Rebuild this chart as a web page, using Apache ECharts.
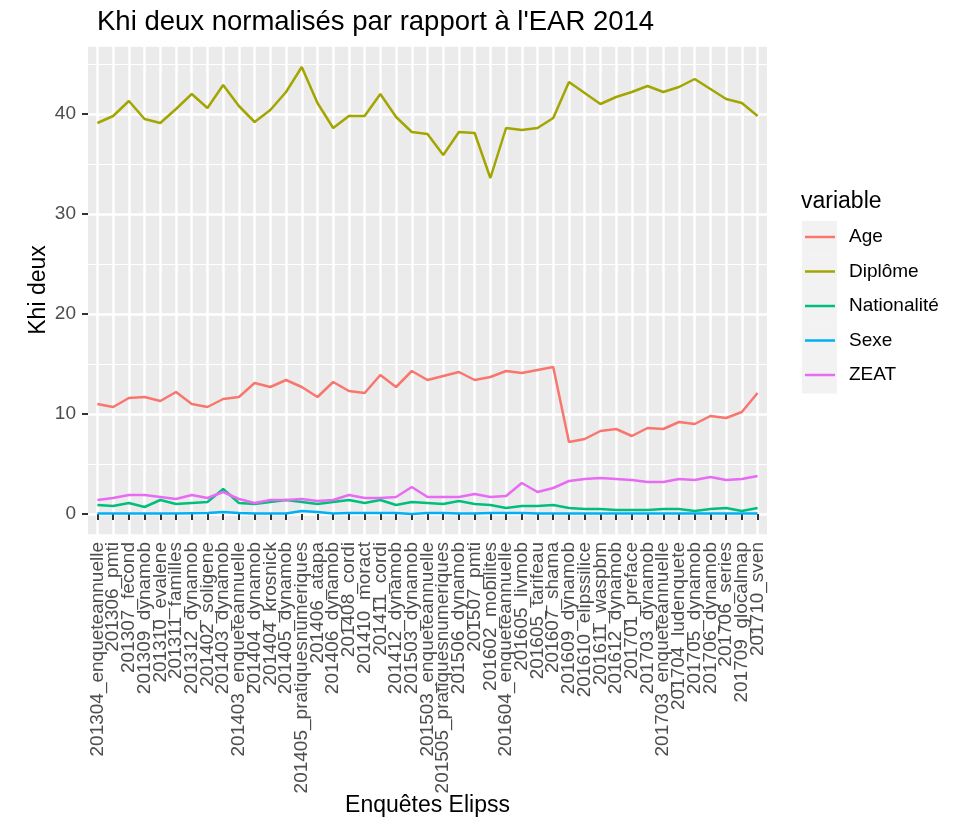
<!DOCTYPE html>
<html>
<head>
<meta charset="utf-8">
<script src="https://cdn.jsdelivr.net/npm/echarts@6/dist/echarts.min.js"></script>
<style>
  html, body { margin: 0; padding: 0; background: #fff; }
  #main { width: 957px; height: 818px; }
</style>
</head>
<body>
<div id="main"></div>
<script>
// enquetes (axe x)
var enquetes = [
    '201304_enqueteannuelle', '201306_pmti', '201307_fecond', '201309_dynamob',
    '201310_evalene', '201311_familles', '201312_dynamob', '201402_soligene',
    '201403_dynamob', '201403_enqueteannuelle', '201404_dynamob', '201404_krosnick',
    '201405_dynamob', '201405_pratiquesnumeriques', '201406_atapa', '201406_dynamob',
    '201408_cordi', '201410_moract', '201411_cordi', '201412_dynamob',
    '201503_dynamob', '201503_enqueteannuelle', '201505_pratiquesnumeriques', '201506_dynamob',
    '201507_pmti', '201602_mobilites', '201604_enqueteannuelle', '201605_livmob',
    '201605_tarifeau', '201607_shama', '201609_dynamob', '201610_elipssilice',
    '201611_waspbm', '201612_dynamob', '201701_preface', '201703_dynamob',
    '201703_enqueteannuelle', '201704_ludenquete', '201705_dynamob', '201706_dynamob',
    '201706_series', '201709_glocalmap', '201710_sven'
];

// valeurs
var age = [11.0, 10.7, 11.6, 11.7, 11.3, 12.2, 11.0, 10.7, 11.5, 11.7,
    13.1, 12.7, 13.4, 12.7, 11.7, 13.2, 12.3, 12.1, 13.9, 12.7,
    14.3, 13.4, 13.8, 14.2, 13.4, 13.7, 14.3, 14.1, 14.4, 14.7,
    7.2, 7.5, 8.3, 8.5, 7.8, 8.6, 8.5, 9.2, 9.0, 9.8,
    9.6, 10.2, 12.1];
var diplome = [39.1, 39.8, 41.3, 39.5, 39.1, 40.5, 42.0, 40.6, 42.9, 40.8,
    39.2, 40.4, 42.2, 44.7, 41.1, 38.6, 39.8, 39.8, 42.0, 39.7,
    38.2, 38.0, 35.9, 38.2, 38.1, 33.6, 38.6, 38.4, 38.6, 39.6,
    43.2, 42.1, 41.0, 41.7, 42.2, 42.8, 42.2, 42.7, 43.5, 42.5,
    41.5, 41.1, 39.8];
var nationalite = [0.9, 0.8, 1.1, 0.7, 1.4, 1.0, 1.1, 1.2, 2.5, 1.1,
    1.0, 1.2, 1.4, 1.2, 1.0, 1.2, 1.4, 1.1, 1.4, 0.9,
    1.2, 1.1, 1.0, 1.3, 1.0, 0.9, 0.6, 0.8, 0.8, 0.9,
    0.6, 0.5, 0.5, 0.4, 0.4, 0.4, 0.5, 0.5, 0.3, 0.5,
    0.6, 0.3, 0.6];
var sexe = [0.05, 0.05, 0.05, 0.05, 0.05, 0.05, 0.08, 0.1, 0.2, 0.1,
    0.05, 0.05, 0.05, 0.3, 0.2, 0.05, 0.1, 0.1, 0.1, 0.1,
    0.0, 0.1, 0.1, 0.05, 0.05, 0.1, 0.1, 0.1, 0.05, 0.05,
    0.05, 0.05, 0.05, 0.05, 0.05, 0.05, 0.05, 0.05, 0.05, 0.05,
    0.05, 0.05, 0.05];
var zeat = [1.4, 1.6, 1.9, 1.9, 1.7, 1.5, 1.9, 1.6, 2.2, 1.5,
    1.1, 1.4, 1.4, 1.5, 1.3, 1.4, 1.9, 1.6, 1.6, 1.7,
    2.7, 1.7, 1.7, 1.7, 2.0, 1.7, 1.8, 3.1, 2.2, 2.6,
    3.3, 3.5, 3.6, 3.5, 3.4, 3.2, 3.2, 3.5, 3.4, 3.7,
    3.4, 3.5, 3.8];

var variables = ['Age', 'Diplôme', 'Nationalité', 'Sexe', 'ZEAT'];
var couleurs = ['#F8766D', '#A3A500', '#00BF7D', '#00B0F6', '#E76BF3'];
var valeurs = [age, diplome, nationalite, sexe, zeat];

var police = '"Liberation Sans", Arial, sans-serif';
var myChart = echarts.init(document.getElementById('main'), null, { renderer: 'canvas' });

// panneau gris : 88 -> 767 px ; les catégories sont décalées de 0.6 unité (comme ggplot)
var panelLeft = 88, panelRight = 190;
var pas = (957 - panelLeft - panelRight) / (enquetes.length - 1 + 1.2);
var decal = 0.6 * pas;

var series = [];
for (var i = 0; i < variables.length; i++) {
    series.push({
        name: variables[i],
        type: 'line',
        xAxisIndex: 1,
        yAxisIndex: 1,
        data: valeurs[i],
        symbol: 'none',
        lineStyle: { width: 2.5, color: couleurs[i] },
        itemStyle: { color: couleurs[i] }
    });
}

var option = {
    animation: false,
    textStyle: { fontFamily: police },
    title: [{
        text: "Khi deux normalisés par rapport à l'EAR 2014",
        left: 97,
        top: 8,
        padding: 0,
        textStyle: { fontSize: 27.5, fontWeight: 'normal', color: '#000', fontFamily: police }
    }, {
        text: 'variable',
        left: 801,
        top: 190,
        padding: 0,
        textStyle: { fontSize: 23, fontWeight: 'normal', color: '#000', fontFamily: police }
    }],
    // fond gris des clés de légende
    legend: [{
        orient: 'vertical',
        left: 802,
        top: 221,
        padding: 0,
        icon: 'rect',
        itemWidth: 35,
        itemHeight: 34.5,
        itemGap: 0,
        itemStyle: { color: '#F2F2F2' },
        formatter: function () { return ''; },
        textStyle: { fontSize: 1 },
        data: variables
    }, {
        orient: 'vertical',
        left: 805,
        top: 227,
        padding: 0,
        icon: 'path://M0,0H30V2.5H0Z',
        itemWidth: 30,
        itemHeight: 2.5,
        itemGap: 14.5,
        textStyle: { fontSize: 19, lineHeight: 20, color: '#000', fontFamily: police, padding: [0, 0, 0, 9] },
        data: variables
    }],
    grid: [{
        // panneau
        left: panelLeft,
        right: panelRight,
        top: 45,
        bottom: 283,
        show: true,
        backgroundColor: '#EBEBEB',
        borderWidth: 0,
        containLabel: false,
        outerBoundsMode: 'none'
    }, {
        // données
        left: panelLeft + decal,
        right: panelRight + decal,
        top: 45,
        bottom: 283,
        show: false,
        containLabel: false,
        outerBoundsMode: 'none'
    }],
    xAxis: [{
        gridIndex: 0,
        type: 'value',
        show: false
    }, {
        gridIndex: 1,
        type: 'category',
        data: enquetes,
        boundaryGap: false,
        name: 'Enquêtes Elipss',
        nameLocation: 'middle',
        nameGap: 259,
        nameMoveOverlap: false,
        nameTextStyle: { fontSize: 23, color: '#000', fontFamily: police },
        axisLine: { show: false },
        axisTick: { show: true, length: 6, lineStyle: { color: '#333', width: 2 } },
        axisLabel: { interval: 0, rotate: 90, margin: 7, fontSize: 19, color: '#4D4D4D', fontFamily: police },
        splitLine: { show: true, interval: 0, lineStyle: { color: '#fff', width: 2.5 } }
    }],
    yAxis: [{
        gridIndex: 0,
        type: 'value',
        min: -2.1,
        max: 46.9,
        splitNumber: 5,
        name: 'Khi deux',
        nameLocation: 'middle',
        nameGap: 38,
        nameMoveOverlap: false,
        nameTextStyle: { fontSize: 23, color: '#000', fontFamily: police },
        axisLine: { show: false },
        axisTick: { show: true, length: 6, lineStyle: { color: '#333', width: 2 } },
        axisLabel: { margin: 12, fontSize: 19, color: '#4D4D4D', showMinLabel: false, showMaxLabel: false, fontFamily: police },
        splitLine: { show: true, lineStyle: { color: '#fff', width: 2.5 } },
        minorTick: { show: false, splitNumber: 2 },
        minorSplitLine: { show: true, lineStyle: { color: '#fff', width: 1.2 } }
    }, {
        gridIndex: 1,
        type: 'value',
        min: -2.1,
        max: 46.9,
        show: false,
        splitLine: { show: false }
    }],
    series: series
};

myChart.setOption(option);
</script>
</body>
</html>
